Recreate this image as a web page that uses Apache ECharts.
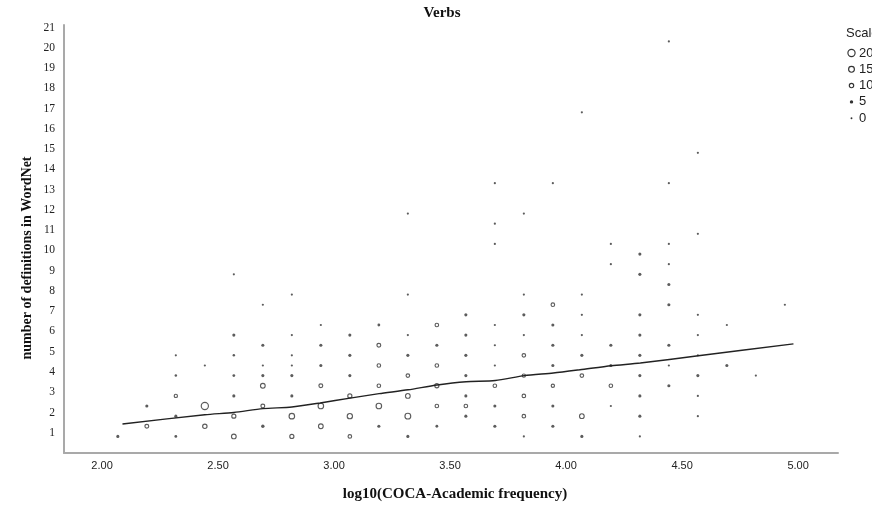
<!DOCTYPE html>
<html>
<head>
<meta charset="utf-8">
<script src="https://cdn.jsdelivr.net/npm/echarts@6/dist/echarts.min.js"></script>
<style>
html,body{margin:0;padding:0;background:#fff;}
#chart{width:872px;height:512px;}
</style>
</head>
<body>
<div id="chart"></div>
<script>
// ---- data (binned scatter: [log10 freq, definitions, count]) ----
const xTickValues = [2.0, 2.5, 3.0, 3.5, 4.0, 4.5, 5.0];
const yTickValues = [1,2,3,4,5,6,7,8,9,10,11,12,13,14,15,16,17,18,19,20,21];

const binnedPoints = [
  [2.068, 0.82, 4],
  [2.193, 2.32, 4], [2.193, 1.32, 8],
  [2.318, 4.82, 1], [2.318, 3.82, 2], [2.318, 2.82, 6], [2.318, 1.82, 4], [2.318, 0.82, 3],
  [2.443, 4.32, 1], [2.443, 2.32, 20], [2.443, 1.32, 10],
  [2.568, 8.82, 1], [2.568, 5.82, 4], [2.568, 4.82, 2], [2.568, 3.82, 3], [2.568, 2.82, 4], [2.568, 1.82, 9], [2.568, 0.82, 11],
  [2.693, 7.32, 1], [2.693, 5.32, 4], [2.693, 4.32, 1], [2.693, 3.82, 4], [2.693, 3.32, 11], [2.693, 2.32, 8], [2.693, 1.32, 5],
  [2.818, 7.82, 1], [2.818, 5.82, 1], [2.818, 4.82, 1], [2.818, 4.32, 1], [2.818, 3.82, 4], [2.818, 2.82, 4], [2.818, 1.82, 14], [2.818, 0.82, 9],
  [2.943, 6.32, 1], [2.943, 5.32, 4], [2.943, 4.32, 4], [2.943, 3.32, 8], [2.943, 2.32, 14], [2.943, 1.32, 11],
  [3.068, 5.82, 4], [3.068, 4.82, 4], [3.068, 3.82, 4], [3.068, 2.82, 9], [3.068, 1.82, 13], [3.068, 0.82, 7],
  [3.193, 6.32, 3], [3.193, 5.32, 8], [3.193, 4.32, 7], [3.193, 3.32, 7], [3.193, 2.32, 14], [3.193, 1.32, 4],
  [3.318, 11.82, 1], [3.318, 7.82, 1], [3.318, 5.82, 1], [3.318, 4.82, 4], [3.318, 3.82, 7], [3.318, 2.82, 11], [3.318, 1.82, 15], [3.318, 0.82, 4],
  [3.443, 6.32, 7], [3.443, 5.32, 4], [3.443, 4.32, 7], [3.443, 3.32, 9], [3.443, 2.32, 7], [3.443, 1.32, 3],
  [3.568, 6.82, 4], [3.568, 5.82, 4], [3.568, 4.82, 4], [3.568, 3.82, 4], [3.568, 2.82, 4], [3.568, 2.32, 7], [3.568, 1.82, 4],
  [3.693, 13.32, 1], [3.693, 11.32, 1], [3.693, 10.32, 1], [3.693, 6.32, 1], [3.693, 5.32, 1], [3.693, 4.32, 1], [3.693, 3.32, 7], [3.693, 2.32, 4], [3.693, 1.32, 4],
  [3.818, 11.82, 1], [3.818, 7.82, 1], [3.818, 6.82, 4], [3.818, 5.82, 1], [3.818, 4.82, 7], [3.818, 3.82, 6], [3.818, 2.82, 7], [3.818, 1.82, 7], [3.818, 0.82, 1],
  [3.943, 13.32, 1], [3.943, 7.32, 7], [3.943, 6.32, 4], [3.943, 5.32, 4], [3.943, 4.32, 4], [3.943, 3.32, 6], [3.943, 2.32, 4], [3.943, 1.32, 4],
  [4.068, 16.82, 1], [4.068, 7.82, 1], [4.068, 6.82, 1], [4.068, 5.82, 1], [4.068, 4.82, 4], [4.068, 3.82, 7], [4.068, 1.82, 11], [4.068, 0.82, 4],
  [4.193, 10.32, 1], [4.193, 9.32, 1], [4.193, 5.32, 4], [4.193, 4.32, 4], [4.193, 3.32, 7], [4.193, 2.32, 1],
  [4.318, 9.82, 4], [4.318, 8.82, 4], [4.318, 6.82, 4], [4.318, 5.82, 4], [4.318, 4.82, 4], [4.318, 3.82, 4], [4.318, 2.82, 4], [4.318, 1.82, 4], [4.318, 0.82, 1],
  [4.443, 20.32, 1], [4.443, 13.32, 1], [4.443, 10.32, 1], [4.443, 9.32, 1], [4.443, 8.32, 4], [4.443, 7.32, 4], [4.443, 5.32, 4], [4.443, 4.32, 1], [4.443, 3.32, 4],
  [4.568, 14.82, 1], [4.568, 10.82, 1], [4.568, 6.82, 1], [4.568, 5.82, 1], [4.568, 4.82, 1], [4.568, 3.82, 4], [4.568, 2.82, 1], [4.568, 1.82, 1],
  [4.693, 6.32, 1], [4.693, 4.32, 4],
  [4.818, 3.82, 1],
  [4.943, 7.32, 1]
];

const loessX = [2.088, 2.443, 2.568, 2.693, 2.818, 2.940, 3.069, 3.194, 3.319, 3.444, 3.569, 3.695, 3.820, 3.945, 4.060, 4.195, 4.320, 4.570, 4.980];
const loessY = [1.43, 1.89, 2.00, 2.19, 2.27, 2.47, 2.71, 2.93, 3.12, 3.36, 3.52, 3.58, 3.82, 3.95, 4.11, 4.31, 4.44, 4.80, 5.39];

const legendCounts = [20, 15, 10, 5, 0];

// ---- styling helpers ----
const INK = '#333333';
function markerFor(count) {
  if (count <= 5) {
    return { symbolSize: 1.9 + 0.3 * count, itemStyle: { color: INK, borderWidth: 0 } };
  }
  return { symbolSize: 1.6 + 0.28 * count, itemStyle: { color: '#fff', borderColor: INK, borderWidth: 1.15 } };
}

const scatterData = binnedPoints.map(p => Object.assign({ value: p }, markerFor(p[2])));
const loessData = loessX.map((x, i) => [x, loessY[i]]);

const chart = echarts.init(document.getElementById('chart'), null, { renderer: 'canvas' });

const LEGEND_FONT = '13px "Liberation Sans", Arial, sans-serif';
const legendGraphics = [];
legendGraphics.push({ type: 'text', x: 846, y: 33, style: { text: 'Scale', font: LEGEND_FONT, fill: '#222', verticalAlign: 'middle' } });
legendCounts.forEach((c, i) => {
  const cy = 53 + i * 16.3;
  const m = markerFor(c);
  const r = m.symbolSize / 2;
  legendGraphics.push({
    type: 'circle', shape: { cx: 851.5, cy: cy, r: r },
    style: { fill: m.itemStyle.color, stroke: m.itemStyle.borderWidth ? INK : null, lineWidth: m.itemStyle.borderWidth || 0 }
  });
  legendGraphics.push({ type: 'text', x: 859, y: cy, style: { text: String(c), font: LEGEND_FONT, fill: '#222', verticalAlign: 'middle' } });
});

const option = {
  backgroundColor: '#fff',
  animation: false,
  grid: { left: 64, right: 34, top: 25, bottom: 59, containLabel: false },
  xAxis: {
    type: 'value', min: 1.836, max: 5.172,
    axisLine: { show: true, onZero: false, lineStyle: { color: '#a9a9a9', width: 2 } },
    axisTick: { show: false },
    splitLine: { show: false },
    axisLabel: {
      customValues: xTickValues,
      formatter: v => v.toFixed(2),
      margin: 7,
      fontFamily: '"Liberation Sans Narrow", "Liberation Sans", Arial, sans-serif',
      fontSize: 11, color: '#222'
    }
  },
  yAxis: {
    type: 'value', min: 0, max: 21.13,
    axisLine: { show: true, onZero: false, lineStyle: { color: '#a9a9a9', width: 2 } },
    axisTick: { show: false },
    splitLine: { show: false },
    axisLabel: {
      customValues: yTickValues,
      formatter: v => String(v),
      margin: 9,
      fontFamily: '"Liberation Serif", "Times New Roman", serif',
      fontSize: 11.5, color: '#222'
    }
  },
  graphic: [
    { type: 'text', x: 442, y: 13, style: { text: 'Verbs', font: 'bold 15px "Liberation Serif", "Times New Roman", serif', fill: '#111', align: 'center', verticalAlign: 'middle' } },
    { type: 'text', x: 455, y: 494, style: { text: 'log10(COCA-Academic frequency)', font: 'bold 15px "Liberation Serif", "Times New Roman", serif', fill: '#111', align: 'center', verticalAlign: 'middle' } },
    { type: 'text', x: 27, y: 258, rotation: Math.PI / 2, style: { text: 'number of definitions in WordNet', font: 'bold 14px "Liberation Serif", "Times New Roman", serif', fill: '#111', align: 'center', verticalAlign: 'middle' } }
  ].concat(legendGraphics),
  series: [
    {
      type: 'scatter',
      symbol: 'circle',
      data: scatterData,
      z: 3
    },
    {
      type: 'line',
      data: loessData,
      showSymbol: false,
      smooth: 0.25,
      lineStyle: { color: '#222', width: 1.4 },
      z: 4
    }
  ]
};
chart.setOption(option);
</script>
</body>
</html>
